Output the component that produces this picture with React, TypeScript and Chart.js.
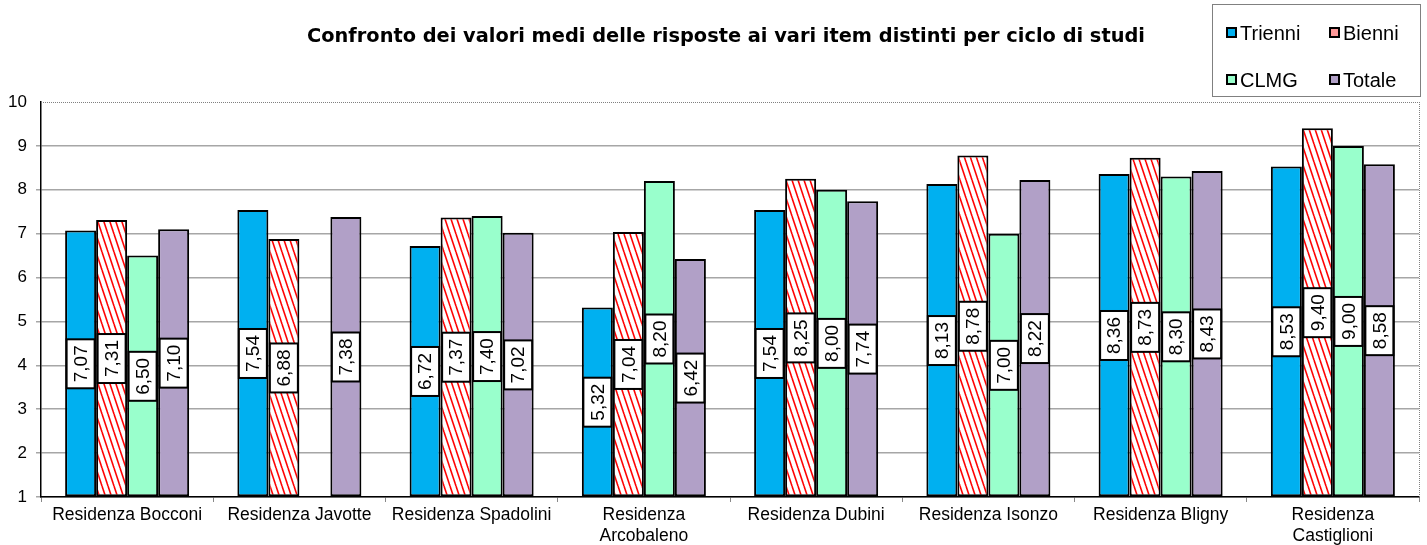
import React, { useEffect, useRef } from 'react';
import { Chart, registerables } from 'chart.js';

Chart.register(...registerables);

const TITLE = 'Confronto dei valori medi delle risposte ai vari item distinti per ciclo di studi';
const categories: (string | string[])[] = [
  'Residenza Bocconi',
  'Residenza Javotte',
  'Residenza Spadolini',
  ['Residenza', 'Arcobaleno'],
  'Residenza Dubini',
  'Residenza Isonzo',
  'Residenza Bligny',
  ['Residenza', 'Castiglioni'],
];
const seriesNames = ['Trienni', 'Bienni', 'CLMG', 'Totale'];
const trienni = [7.07, 7.54, 6.72, 5.32, 7.54, 8.13, 8.36, 8.53];
const bienni = [7.31, 6.88, 7.37, 7.04, 8.25, 8.78, 8.73, 9.4];
const clmg = [6.5, null, 7.4, 8.2, 8.0, 7.0, 8.3, 9.0];
const totale = [7.1, 7.38, 7.02, 6.42, 7.74, 8.22, 8.43, 8.58];
const yMin = 1;
const yMax = 10;

function makeStripePattern(): CanvasPattern | string {
  const c = document.createElement('canvas');
  c.width = 6;
  c.height = 18;
  const g = c.getContext('2d');
  if (!g) return '#ff8080';
  g.fillStyle = '#ffffff';
  g.fillRect(0, 0, 6, 18);
  g.strokeStyle = '#ff0000';
  g.lineWidth = 1.6;
  for (let k = -1; k <= 1; k++) {
    g.beginPath();
    g.moveTo(k * 6, 0);
    g.lineTo(k * 6 + 6, 18);
    g.stroke();
  }
  const p = g.createPattern(c, 'repeat');
  return p || '#ff8080';
}

const fmt = (v: number) => v.toFixed(2).replace('.', ',');

export default function App() {
  const ref = useRef<HTMLCanvasElement | null>(null);

  useEffect(() => {
    document.body.style.margin = '0';
    const canvas = ref.current;
    if (!canvas) return;
    const stripes = makeStripePattern();
    const fills: (string | CanvasPattern)[] = ['#00B0F0', stripes, '#99FFCC', '#B1A0C7'];
    const legendFills = ['#00B0F0', '#FF9999', '#99FFCC', '#B1A0C7'];
    const allData = [trienni, bienni, clmg, totale];

    const decor = {
      id: 'decor',
      beforeDraw(chart: any) {
        const ctx = chart.ctx;
        ctx.save();
        ctx.fillStyle = '#ffffff';
        ctx.fillRect(0, 0, chart.width, chart.height);
        ctx.restore();
      },
      afterDraw(chart: any) {
        const ctx = chart.ctx;
        const a = chart.chartArea;
        ctx.save();
        ctx.strokeStyle = '#808080';
        ctx.lineWidth = 1;
        ctx.setLineDash([1, 1]);
        ctx.beginPath();
        ctx.moveTo(a.left, a.top + 0.5);
        ctx.lineTo(a.right, a.top + 0.5);
        ctx.moveTo(a.right + 0.5, a.top);
        ctx.lineTo(a.right + 0.5, a.bottom);
        ctx.stroke();
        ctx.setLineDash([]);

        ctx.fillStyle = '#000';
        ctx.textAlign = 'center';
        ctx.textBaseline = 'middle';
        let size = 18;
        ctx.font = `bold ${size}px "DejaVu Sans"`;
        const w = ctx.measureText(TITLE).width;
        size = Math.min(20, size * 838 / w);
        ctx.font = `bold ${size}px "DejaVu Sans"`;
        ctx.fillText(TITLE, 726, 37);

        const lx = 1212, ly = 4, lw = 208, lh = 92;
        ctx.fillStyle = '#fff';
        ctx.fillRect(lx, ly, lw, lh);
        ctx.strokeStyle = '#808080';
        ctx.lineWidth = 1;
        ctx.strokeRect(lx + 0.5, ly + 0.5, lw, lh);
        const pos = [
          [1227, 33], [1330, 33], [1227, 80], [1330, 80],
        ];
        ctx.font = '20px "Liberation Sans", Arial';
        ctx.textAlign = 'left';
        seriesNames.forEach((n, i) => {
          const [px, py] = pos[i];
          ctx.fillStyle = legendFills[i];
          ctx.fillRect(px, py - 5, 9, 9);
          ctx.strokeStyle = '#000';
          ctx.lineWidth = 2;
          ctx.strokeRect(px, py - 5, 9, 9);
          ctx.fillStyle = '#000';
          ctx.fillText(n, px + 13, py + 1);
        });
        ctx.restore();
      },
      afterDatasetsDraw(chart: any) {
        const ctx = chart.ctx;
        const basePx = chart.scales.y.getPixelForValue(yMin);
        ctx.save();
        ctx.font = '19px "Liberation Sans", Arial';
        chart.data.datasets.forEach((ds: any, i: number) => {
          const meta = chart.getDatasetMeta(i);
          meta.data.forEach((el: any, j: number) => {
            const v = ds.data[j];
            if (v == null) return;
            const { x, y } = el.getProps(['x', 'y'], true);
            const cy = (y + basePx) / 2;
            const txt = fmt(v);
            const tw = ctx.measureText(txt).width;
            const bh = tw + 12;
            const bw = 28;
            ctx.fillStyle = '#fff';
            ctx.fillRect(x - bw / 2, cy - bh / 2, bw, bh);
            ctx.strokeStyle = '#000';
            ctx.lineWidth = 2;
            ctx.strokeRect(x - bw / 2, cy - bh / 2, bw, bh);
            ctx.save();
            ctx.translate(x, cy);
            ctx.rotate(-Math.PI / 2);
            ctx.fillStyle = '#000';
            ctx.textAlign = 'center';
            ctx.textBaseline = 'middle';
            ctx.fillText(txt, 0, 1);
            ctx.restore();
          });
        });
        ctx.restore();
      },
    };

    const chart = new Chart(canvas, {
      type: 'bar',
      data: {
        labels: categories as any,
        datasets: seriesNames.map((n, i) => ({
          label: n,
          data: allData[i] as any,
          base: yMin,
          backgroundColor: fills[i] as any,
          borderColor: '#000',
          borderWidth: 2,
          borderSkipped: false,
          categoryPercentage: 0.72,
          barPercentage: 1,
        })),
      },
      options: {
        responsive: false,
        animation: false,
        devicePixelRatio: 1,
        layout: { padding: { top: 102, right: 8, left: 0, bottom: 0 } },
        plugins: {
          legend: { display: false },
          title: { display: false },
          tooltip: { enabled: false },
        },
        scales: {
          x: {
            afterFit: (s: any) => { s.height = 48; },
            grid: {
              drawOnChartArea: false,
              drawTicks: true,
              tickLength: 5,
              color: '#888',
              offset: true,
            },
            border: { color: '#000', width: 1.5 },
            ticks: {
              color: '#000',
              font: { family: '"Liberation Sans", Arial', size: 17.5 },
              padding: 3,
              maxRotation: 0,
              autoSkip: false,
            },
          },
          y: {
            min: yMin,
            max: yMax,
            afterFit: (s: any) => { s.width = 41; },
            grid: {
              color: (c: any) => (c.tick && c.tick.value === yMax ? 'rgba(0,0,0,0)' : '#a6a6a6'),
              lineWidth: 1.5,
              tickLength: 5,
            },
            border: { color: '#000', width: 1.5 },
            ticks: {
              stepSize: 1,
              color: '#000',
              font: { family: '"Liberation Sans", Arial', size: 17 },
              padding: 9,
            },
          },
        },
      },
      plugins: [decor],
    });
    return () => chart.destroy();
  }, []);

  return (
    <div style={{ position: 'fixed', left: 0, top: 0 }}>
      <canvas ref={ref} width={1427} height={545} style={{ display: 'block' }} />
    </div>
  );
}
